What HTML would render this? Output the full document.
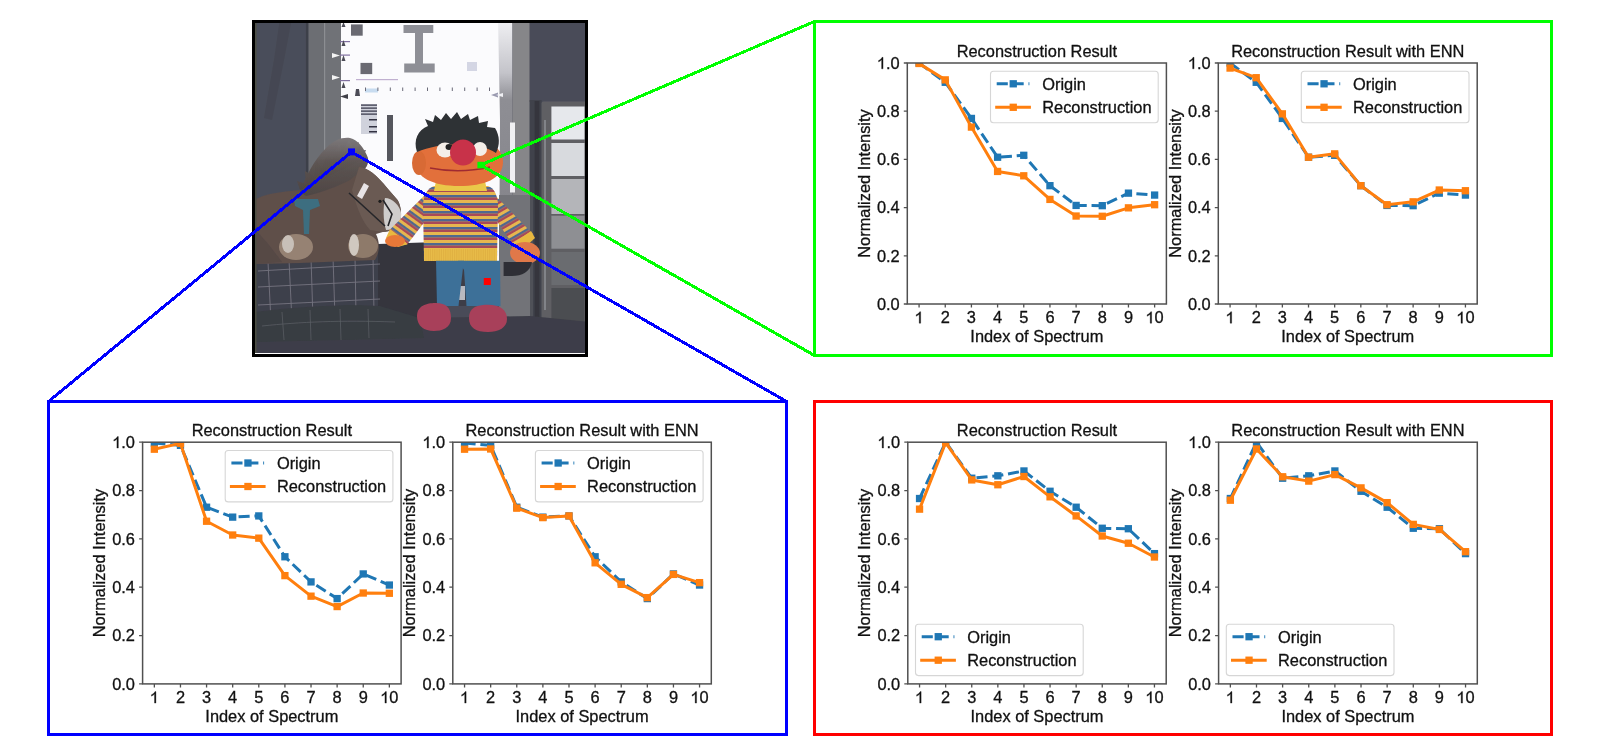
<!DOCTYPE html>
<html><head><meta charset="utf-8"><title>Reconstruction figure</title>
<style>
html,body{margin:0;padding:0;background:#fff;}
body{width:1599px;height:756px;overflow:hidden;}
svg{display:block;will-change:transform;}
svg text{font-family:"Liberation Sans", sans-serif;font-size:16.4px;fill:#111;stroke:#111;stroke-width:0.3px;}
.g1{fill:#111;stroke:#111;stroke-width:0.3px;}
</style></head><body>
<svg width="1599" height="756" viewBox="0 0 1599 756">
<rect width="1599" height="756" fill="#fff"/>

<clipPath id="phclip"><rect x="255" y="23" width="330" height="331"/></clipPath>
<filter id="soft" x="0" y="0" width="1" height="1"><feGaussianBlur stdDeviation="0.7"/></filter>
<g clip-path="url(#phclip)"><g filter="url(#soft)">
<rect x="250" y="18" width="340" height="340" fill="#4a4c58"/>
<!-- curtain -->
<rect x="250" y="18" width="55" height="250" fill="#4a4e5a"/>
<path d="M280 18 L292 18 L284 60 L272 120 L264 118 L274 60 Z" fill="#41444f" opacity="0.7"/>
<rect x="306" y="18" width="2.5" height="250" fill="#3c3f48"/>
<!-- gray panel -->
<rect x="308.5" y="18" width="16" height="250" fill="#6c6e73"/>
<rect x="324.3" y="18" width="17" height="250" fill="#707277"/>
<rect x="324" y="18" width="1.2" height="250" fill="#8c8e92"/>
<path d="M332 53 L340 55.5 L332 58 Z M332 75 L340 77.5 L332 80 Z" fill="#f4f4f4"/>
<!-- test chart -->
<rect x="341" y="18" width="161" height="260" fill="#fbfbfd"/>
<linearGradient id="stripg" gradientUnits="userSpaceOnUse" x1="0" y1="18" x2="0" y2="200"><stop offset="0" stop-color="#f2f2f5"/><stop offset="0.3" stop-color="#c4c4ca"/><stop offset="0.45" stop-color="#8e8e94"/><stop offset="1" stop-color="#86868c"/></linearGradient>
<path d="M498 18 L512.5 18 L512.5 300 L499 300 L500 120 Z" fill="url(#stripg)"/>
<rect x="529.7" y="18" width="3.3" height="300" fill="#55565c"/>
<rect x="512.5" y="18" width="17.2" height="300" fill="#868689"/>
<rect x="510" y="122.5" width="5" height="70" fill="#f0f0f2"/>
<!-- chart marks -->
<rect x="351" y="24.4" width="11.7" height="11.3" fill="#6a6b72"/>
<rect x="360.5" y="62.9" width="11.7" height="11.2" fill="#6a6b72"/>
<path d="M403.5 25 H433.3 V33 H423 V63.6 H434.7 V72.4 H404.2 V63.6 H415 V33 H403.5 Z" fill="#8e8f96"/>
<rect x="467" y="62" width="10" height="9" fill="#d4d6e4"/>
<rect x="356" y="79" width="42" height="1.2" fill="#c0b0d0"/>
<rect x="340" y="41" width="10" height="1.2" fill="#8070a0"/>
<rect x="340" y="54.5" width="10" height="1.2" fill="#8070a0"/>
<rect x="340" y="80" width="10" height="1.2" fill="#8070a0"/>
<path d="M341.5 46 L345.5 46 L343.5 40 Z M341.5 61 L345.5 61 L343.5 55 Z M341.5 88 L345.5 88 L343.5 82 Z M341.5 27 L345.5 27 L343.5 22 Z" fill="#4c4c56"/>
<path d="M356 89 L359 89 L360 96 L355 96 Z" fill="#4c4c56"/>
<path d="M340 96.5 L348 94 L348 99 Z" fill="#404048"/>
<rect x="365" y="88.5" width="13" height="4" fill="#c8dcf0"/>
<g fill="#6a6a78"><rect x="365.0" y="87.5" width="1" height="3.5"/><rect x="377.4" y="87.5" width="1" height="3.5"/><rect x="389.8" y="87.5" width="1" height="3.5"/><rect x="402.2" y="87.5" width="1" height="3.5"/><rect x="414.6" y="87.5" width="1" height="3.5"/><rect x="427.0" y="87.5" width="1" height="3.5"/><rect x="439.4" y="87.5" width="1" height="3.5"/><rect x="451.8" y="87.5" width="1" height="3.5"/><rect x="464.2" y="87.5" width="1" height="3.5"/><rect x="476.6" y="87.5" width="1" height="3.5"/><rect x="489.0" y="87.5" width="1" height="3.5"/></g>
<path d="M491 95 L498 92.5 L498 97.5 Z" fill="#9a9ab0"/><path d="M496 95 L503 93 L503 97 Z" fill="#f0f0f4"/>
<rect x="361" y="104" width="16" height="30" fill="#d0d2dc"/>
<g fill="#303042"><rect x="361" y="104.5" width="16" height="1.2"/><rect x="361" y="107.5" width="16" height="1.2"/><rect x="361" y="110.5" width="16" height="1.2"/><rect x="361" y="113.5" width="16" height="1.2"/><rect x="369" y="119" width="8" height="1.5"/><rect x="369" y="126" width="8" height="1.5"/><rect x="369" y="131" width="8" height="1.5"/></g>
<rect x="387" y="115" width="6" height="46" fill="#55565d"/>
<!-- color checker surroundings -->
<rect x="529.7" y="18" width="60" height="84" fill="#4a4c58"/>
<rect x="529.7" y="100" width="12" height="225" fill="#40424c"/>
<rect x="534.5" y="101" width="5" height="222" fill="#35363c"/>
<rect x="541.5" y="101.6" width="45" height="220" fill="#5e5f64" rx="2"/>
<rect x="551.4" y="106.5" width="33.1" height="33" fill="#e6e8ec"/>
<rect x="551.4" y="143" width="33.1" height="33" fill="#d8dade"/>
<rect x="551.4" y="179" width="33.1" height="35" fill="#b4b5b9"/>
<rect x="551.4" y="215.7" width="33.1" height="33" fill="#8e8f93"/>
<rect x="551.4" y="252" width="33.1" height="33" fill="#6b6c70"/>
<rect x="551.4" y="288" width="33.1" height="33.5" fill="#4c4d51"/>
<rect x="544" y="120" width="2" height="190" fill="#9a9ba0" opacity="0.6"/>
<!-- gray area right of Ernie -->
<rect x="499" y="195" width="31" height="130" fill="#727378"/><rect x="530" y="195" width="3" height="130" fill="#505158"/>
<!-- floor -->
<path d="M250 322 L420 318 L530 316 L590 322 L590 360 L250 360 Z" fill="#3d3e48"/>
<!-- plaid box -->
<path d="M255 256 L330 253 L380 250 L380 320 L255 324 Z" fill="#3e3f4b"/>
<path d="M378 244 L437 242 L438 305 L420 318 L378 320 Z" fill="#34353e"/>
<g stroke="#74747f" stroke-width="0.9" fill="none">
<path d="M258 271 L380 264 M258 287 L380 281 M258 305 L380 299 M262 318 L378 313"/>
<path d="M268 262 L271 322 M289 260 L292 322 M311 258 L313 320 M333 257 L335 318 M355 256 L356 316 M373 255 L374 314"/>
</g>
<path d="M255 312 C300 306 350 304 380 306 L420 318 L424 338 L255 342 Z" fill="#383c42"/>
<g stroke="#5c6066" stroke-width="0.8" fill="none" opacity="0.9"><path d="M262 326 C300 322 340 320 395 322 M282 312 L284 340 M310 310 L311 340 M340 309 L341 340 M368 309 L369 338"/></g>
<!-- horse -->
<linearGradient id="maneg" x1="0" y1="0" x2="0" y2="1"><stop offset="0" stop-color="#7c787a"/><stop offset="0.45" stop-color="#5c5452"/><stop offset="1" stop-color="#4e4644"/></linearGradient>
<path d="M255 200 C262 194 280 192 300 190 L330 176 L359 167 C368 168 376 174 388 189 L397.6 200 C401 206 402 214 400 222 C397 228 390 232 382.8 232 L376 234 C380 242 380 252 375 260 L300 263 L256 264 Z" fill="#5e4f4a"/>
<path d="M255 230 C262 236 270 246 282 262 L255 264 Z" fill="#544643" opacity="0.8"/>
<path d="M300 192 C306 176 314 160 326 148 C334 140 342 137 350 138 C358 140 364 148 368 158 C369 164 366 170 360 172 L350 180 C338 186 324 192 306 196 Z" fill="url(#maneg)"/>
<path d="M300 190 L297 181 L306 184 L305 171 L314 176 L316 161 L322 168 L328 151 L332 160 L339 143 L342 152 L349 140 L353 147 L359 142 L358 151 L366 150 L362 160 Z" fill="url(#maneg)"/>
<path d="M359 167 C368 168 376 174 388 189 L397.6 200 C401 206 402 214 400 222 C397 228 390 232 382.8 232 L370 230 C362 222 356 205 352 190 Z" fill="#6a5a52"/>
<path d="M385 198 C392 198 400 205 401.3 214 C401 224 396 230 386 230 C383 220 383 208 385 198 Z" fill="#cfcdcc"/>
<path d="M357 196 L364 183 L369 186 L362 199 Z" fill="#e8e4e6"/>
<path d="M349 193 L385 226 M383 200 L392 214 L388 226" stroke="#25262a" stroke-width="1.6" fill="none"/>
<circle cx="380" cy="201.3" r="1.6" fill="#1c1c1e"/>
<path d="M294 199 L318 199 L320 206 L310 210 L309 234 L304 234 L303 210 L295 206 Z" fill="#3c6e80"/>
<ellipse cx="296" cy="247" rx="17" ry="13" fill="#968273"/>
<ellipse cx="288" cy="244" rx="6" ry="9" fill="#c8c0b8"/>
<ellipse cx="363" cy="246" rx="15" ry="12" fill="#8e7a6b"/>
<ellipse cx="354" cy="245" rx="5" ry="11" fill="#d0c8c0"/>
<!-- Ernie -->
<!-- arms (sleeves) -->
<pattern id="strH" patternUnits="userSpaceOnUse" x="0" y="192" width="20" height="8"><rect width="20" height="8" fill="#e6b650"/><rect y="3" width="20" height="2.6" fill="#4f6890"/><rect y="5.6" width="20" height="2.4" fill="#a84858"/></pattern>
<pattern id="strL" patternUnits="userSpaceOnUse" width="20" height="8" patternTransform="rotate(36 410 215)"><rect width="20" height="8" fill="#e6b650"/><rect y="3" width="20" height="2.6" fill="#4f6890"/><rect y="5.6" width="20" height="2.4" fill="#a84858"/></pattern>
<pattern id="strR" patternUnits="userSpaceOnUse" width="20" height="8" patternTransform="rotate(-30 510 215)"><rect width="20" height="8" fill="#e6b650"/><rect y="3" width="20" height="2.6" fill="#4f6890"/><rect y="5.6" width="20" height="2.4" fill="#a84858"/></pattern>
<path d="M432 188 L389.5 230 L398 246 L407.4 244.3 L426 220 Z" fill="url(#strL)"/>
<path d="M390 229 L402 238 L407.4 244.3 L398 247 L386 238 Z" fill="#e8b840"/>
<path d="M488 188 L533.6 234.8 L526 246 L514.5 246.7 L496 220 Z" fill="url(#strR)"/>
<path d="M518 240 L531 231 L535 238 L524 248 L514.5 246.7 Z" fill="#e8b840"/>
<!-- hands -->
<ellipse cx="395" cy="241" rx="10" ry="6" fill="#e87838"/>
<ellipse cx="525" cy="253" rx="15" ry="11" fill="#e0784a"/>
<!-- sweater -->
<path d="M434 186 L488 186 C494 188 497 194 498 204 L497 261 L424 261 L423 204 C424 194 428 188 434 186 Z" fill="url(#strH)"/>
<rect x="424" y="248.5" width="73" height="12.5" fill="#e8bc48"/>
<g stroke="#d09838" stroke-width="0.6" opacity="0.6"><path d="M426.0 249 V261"/><path d="M428.2 249 V261"/><path d="M430.4 249 V261"/><path d="M432.6 249 V261"/><path d="M434.8 249 V261"/><path d="M437.0 249 V261"/><path d="M439.2 249 V261"/><path d="M441.4 249 V261"/><path d="M443.6 249 V261"/><path d="M445.8 249 V261"/><path d="M448.0 249 V261"/><path d="M450.2 249 V261"/><path d="M452.4 249 V261"/><path d="M454.6 249 V261"/><path d="M456.8 249 V261"/><path d="M459.0 249 V261"/><path d="M461.2 249 V261"/><path d="M463.4 249 V261"/><path d="M465.6 249 V261"/><path d="M467.8 249 V261"/><path d="M470.0 249 V261"/><path d="M472.2 249 V261"/><path d="M474.4 249 V261"/><path d="M476.6 249 V261"/><path d="M478.8 249 V261"/><path d="M481.0 249 V261"/><path d="M483.2 249 V261"/><path d="M485.4 249 V261"/><path d="M487.6 249 V261"/><path d="M489.8 249 V261"/><path d="M492.0 249 V261"/><path d="M494.2 249 V261"/></g>
<!-- collar -->
<path d="M436 181 L485 181 L487 191 L434 191 Z" fill="#eac84a"/>
<!-- face -->
<path d="M415 161 C415 145 435 137 459 137 C484 137 503 146 503 162 C503 179 484 186 459 186 C434 186 415 178 415 161 Z" fill="#e2703a"/>
<ellipse cx="419" cy="163" rx="7" ry="12" fill="#d86a34"/>
<path d="M417 152 C413 140 418 130 428 126 L425 119 L433 122 L435 115 L441 120 L446 113 L451 119 L457 112 L461 119 L468 114 L470 120 L478 116 L479 123 L488 121 L487 127 L495 128 C500 136 500 145 496 153 C480 142 440 142 417 152 Z" fill="#2e3034"/>
<ellipse cx="445" cy="150" rx="8.5" ry="7.5" fill="#f4eee8"/>
<ellipse cx="480" cy="149" rx="7" ry="7" fill="#f4eee8"/>
<ellipse cx="449" cy="147" rx="3.5" ry="3" fill="#222"/>
<circle cx="463" cy="152.5" r="13" fill="#c8304a"/>
<path d="M430 168 Q460 174 490 167" stroke="#a02c30" stroke-width="1.4" fill="none"/>
<!-- pants -->
<rect x="455" y="262" width="14" height="44" fill="#3d3e47"/><rect x="457" y="286" width="8" height="14" fill="#b8b9c0"/>
<path d="M436 260.7 L464 260.7 L463 268 L458.5 306 L437 306 Z" fill="#3c6f98"/>
<path d="M458 260.7 L500 260.7 L500.5 306 L466.5 306 L464 270 Z" fill="#3c6f98"/>
<!-- shoes -->
<path d="M417 316 C417 304 430 303 436 303 C446 303 451 308 451 318 C451 328 442 331 434 331 C424 331 417 326 417 316 Z" fill="#a8405a"/>
<path d="M469 318 C469 306 480 304.8 488 304.8 C500 304.8 507 310 507 319 C507 328 498 332 488 332 C476 332 469 328 469 318 Z" fill="#a8405a"/>
<!-- stick/bag -->
<path d="M503.6 262 L532 262 C530 272 522 276 512 276 L503.6 276 Z" fill="#2e2f35"/>
</g>
<rect x="255" y="23" width="1.6" height="330" fill="#4e5044" opacity="0.9"/>
<rect x="255" y="353" width="330" height="1" fill="#ffffff"/>
</g>
<rect x="253.5" y="21.5" width="333" height="334" fill="none" stroke="#000" stroke-width="3"/>

<clipPath id="clipGL"><rect x="907.3" y="63" width="259.1" height="241"/></clipPath>
<g clip-path="url(#clipGL)">
<polyline points="919.08,63 945.25,82.28 971.42,118.43 997.59,157.23 1023.76,155.3 1049.94,185.67 1076.11,205.43 1102.28,205.67 1128.45,193.14 1154.62,195.07" fill="none" stroke="#1f77b4" stroke-width="3" stroke-linejoin="round" stroke-linecap="butt" stroke-dasharray="11.1 4.8"/>
<rect x="915.43" y="59.35" width="7.3" height="7.3" fill="#1f77b4"/>
<rect x="941.6" y="78.63" width="7.3" height="7.3" fill="#1f77b4"/>
<rect x="967.77" y="114.78" width="7.3" height="7.3" fill="#1f77b4"/>
<rect x="993.94" y="153.58" width="7.3" height="7.3" fill="#1f77b4"/>
<rect x="1020.11" y="151.65" width="7.3" height="7.3" fill="#1f77b4"/>
<rect x="1046.29" y="182.02" width="7.3" height="7.3" fill="#1f77b4"/>
<rect x="1072.46" y="201.78" width="7.3" height="7.3" fill="#1f77b4"/>
<rect x="1098.63" y="202.02" width="7.3" height="7.3" fill="#1f77b4"/>
<rect x="1124.8" y="189.49" width="7.3" height="7.3" fill="#1f77b4"/>
<rect x="1150.97" y="191.42" width="7.3" height="7.3" fill="#1f77b4"/>
<polyline points="919.08,63.48 945.25,79.87 971.42,127.11 997.59,171.45 1023.76,175.79 1049.94,199.41 1076.11,216.03 1102.28,216.28 1128.45,207.84 1154.62,204.71" fill="none" stroke="#ff7f0e" stroke-width="3" stroke-linejoin="round" stroke-linecap="square"/>
<rect x="915.43" y="59.83" width="7.3" height="7.3" fill="#ff7f0e"/>
<rect x="941.6" y="76.22" width="7.3" height="7.3" fill="#ff7f0e"/>
<rect x="967.77" y="123.46" width="7.3" height="7.3" fill="#ff7f0e"/>
<rect x="993.94" y="167.8" width="7.3" height="7.3" fill="#ff7f0e"/>
<rect x="1020.11" y="172.14" width="7.3" height="7.3" fill="#ff7f0e"/>
<rect x="1046.29" y="195.76" width="7.3" height="7.3" fill="#ff7f0e"/>
<rect x="1072.46" y="212.38" width="7.3" height="7.3" fill="#ff7f0e"/>
<rect x="1098.63" y="212.63" width="7.3" height="7.3" fill="#ff7f0e"/>
<rect x="1124.8" y="204.19" width="7.3" height="7.3" fill="#ff7f0e"/>
<rect x="1150.97" y="201.06" width="7.3" height="7.3" fill="#ff7f0e"/>
</g>
<rect x="907.3" y="63" width="259.1" height="241" fill="none" stroke="#505050" stroke-width="1.5"/>
<path d="M903.8 304H907.3M903.8 255.8H907.3M903.8 207.6H907.3M903.8 159.4H907.3M903.8 111.2H907.3M903.8 63H907.3M919.08 304V307.5M945.25 304V307.5M971.42 304V307.5M997.59 304V307.5M1023.76 304V307.5M1049.94 304V307.5M1076.11 304V307.5M1102.28 304V307.5M1128.45 304V307.5M1154.62 304V307.5" stroke="#505050" stroke-width="1.3" fill="none"/>
<text x="876.9" y="309.85">0.0</text>
<text x="876.9" y="261.65">0.2</text>
<text x="876.9" y="213.45">0.4</text>
<text x="876.9" y="165.25">0.6</text>
<text x="876.9" y="117.05">0.8</text>
<text x="876.9" y="68.85"> .0</text>
<path class="g1" d="M883.05 68.85L883.05 57.37L882.12 57.37C881.82 57.99 881.3 58.62 880.54 59.24C879.94 59.76 879.28 60.19 878.54 60.52L878.54 61.9C879.03 61.7 879.61 61.4 880.21 61.01C880.84 60.62 881.3 60.22 881.61 59.86L881.61 68.85Z"/>
<path class="g1" d="M920.67 323.2L920.67 311.72L919.73 311.72C919.44 312.34 918.91 312.97 918.16 313.59C917.55 314.11 916.89 314.54 916.16 314.87L916.16 316.25C916.65 316.05 917.22 315.75 917.83 315.36C918.45 314.97 918.91 314.57 919.22 314.21L919.22 323.2Z"/>
<text x="940.69" y="323.2">2</text>
<text x="966.86" y="323.2">3</text>
<text x="993.03" y="323.2">4</text>
<text x="1019.2" y="323.2">5</text>
<text x="1045.38" y="323.2">6</text>
<text x="1071.55" y="323.2">7</text>
<text x="1097.72" y="323.2">8</text>
<text x="1123.89" y="323.2">9</text>
<text x="1145.5" y="323.2"> 0</text>
<path class="g1" d="M1151.65 323.2L1151.65 311.72L1150.72 311.72C1150.42 312.34 1149.9 312.97 1149.14 313.59C1148.54 314.11 1147.88 314.54 1147.14 314.87L1147.14 316.25C1147.63 316.05 1148.21 315.75 1148.81 315.36C1149.44 314.97 1149.9 314.57 1150.21 314.21L1150.21 323.2Z"/>
<text x="1036.85" y="342.3" text-anchor="middle">Index of Spectrum</text>
<text x="1036.85" y="56.9" text-anchor="middle">Reconstruction Result</text>
<text transform="translate(869.8 183.5) rotate(-90)" text-anchor="middle">Normalized Intensity</text>
<rect x="990.5" y="71.3" width="167.7" height="51.4" rx="3" fill="#fff" fill-opacity="0.8" stroke="#d6d6d6" stroke-width="1.1"/>
<path d="M996.7 83.8H1029.4" stroke="#1f77b4" stroke-width="3" stroke-linecap="butt" stroke-dasharray="11.1 4.8"/>
<rect x="1009.6" y="80.15" width="7.3" height="7.3" fill="#1f77b4"/>
<text x="1042.2" y="89.6">Origin</text>
<path d="M996.7 107.3H1029.4" stroke="#ff7f0e" stroke-width="3" stroke-linecap="square"/>
<rect x="1009.6" y="103.65" width="7.3" height="7.3" fill="#ff7f0e"/>
<text x="1042.2" y="113.1">Reconstruction</text>
<clipPath id="clipGR"><rect x="1218.3" y="63" width="258.9" height="241"/></clipPath>
<g clip-path="url(#clipGR)">
<polyline points="1230.07,63 1256.22,82.28 1282.37,118.43 1308.52,157.23 1334.67,155.3 1360.83,185.67 1386.98,205.43 1413.13,205.67 1439.28,193.14 1465.43,195.07" fill="none" stroke="#1f77b4" stroke-width="3" stroke-linejoin="round" stroke-linecap="butt" stroke-dasharray="11.1 4.8"/>
<rect x="1226.42" y="59.35" width="7.3" height="7.3" fill="#1f77b4"/>
<rect x="1252.57" y="78.63" width="7.3" height="7.3" fill="#1f77b4"/>
<rect x="1278.72" y="114.78" width="7.3" height="7.3" fill="#1f77b4"/>
<rect x="1304.87" y="153.58" width="7.3" height="7.3" fill="#1f77b4"/>
<rect x="1331.02" y="151.65" width="7.3" height="7.3" fill="#1f77b4"/>
<rect x="1357.18" y="182.02" width="7.3" height="7.3" fill="#1f77b4"/>
<rect x="1383.33" y="201.78" width="7.3" height="7.3" fill="#1f77b4"/>
<rect x="1409.48" y="202.02" width="7.3" height="7.3" fill="#1f77b4"/>
<rect x="1435.63" y="189.49" width="7.3" height="7.3" fill="#1f77b4"/>
<rect x="1461.78" y="191.42" width="7.3" height="7.3" fill="#1f77b4"/>
<polyline points="1230.07,68.06 1256.22,77.7 1282.37,113.85 1308.52,157.23 1334.67,153.86 1360.83,185.67 1386.98,204.71 1413.13,201.82 1439.28,190.01 1465.43,190.73" fill="none" stroke="#ff7f0e" stroke-width="3" stroke-linejoin="round" stroke-linecap="square"/>
<rect x="1226.42" y="64.41" width="7.3" height="7.3" fill="#ff7f0e"/>
<rect x="1252.57" y="74.05" width="7.3" height="7.3" fill="#ff7f0e"/>
<rect x="1278.72" y="110.2" width="7.3" height="7.3" fill="#ff7f0e"/>
<rect x="1304.87" y="153.58" width="7.3" height="7.3" fill="#ff7f0e"/>
<rect x="1331.02" y="150.21" width="7.3" height="7.3" fill="#ff7f0e"/>
<rect x="1357.18" y="182.02" width="7.3" height="7.3" fill="#ff7f0e"/>
<rect x="1383.33" y="201.06" width="7.3" height="7.3" fill="#ff7f0e"/>
<rect x="1409.48" y="198.17" width="7.3" height="7.3" fill="#ff7f0e"/>
<rect x="1435.63" y="186.36" width="7.3" height="7.3" fill="#ff7f0e"/>
<rect x="1461.78" y="187.08" width="7.3" height="7.3" fill="#ff7f0e"/>
</g>
<rect x="1218.3" y="63" width="258.9" height="241" fill="none" stroke="#505050" stroke-width="1.5"/>
<path d="M1214.8 304H1218.3M1214.8 255.8H1218.3M1214.8 207.6H1218.3M1214.8 159.4H1218.3M1214.8 111.2H1218.3M1214.8 63H1218.3M1230.07 304V307.5M1256.22 304V307.5M1282.37 304V307.5M1308.52 304V307.5M1334.67 304V307.5M1360.83 304V307.5M1386.98 304V307.5M1413.13 304V307.5M1439.28 304V307.5M1465.43 304V307.5" stroke="#505050" stroke-width="1.3" fill="none"/>
<text x="1187.9" y="309.85">0.0</text>
<text x="1187.9" y="261.65">0.2</text>
<text x="1187.9" y="213.45">0.4</text>
<text x="1187.9" y="165.25">0.6</text>
<text x="1187.9" y="117.05">0.8</text>
<text x="1187.9" y="68.85"> .0</text>
<path class="g1" d="M1194.05 68.85L1194.05 57.37L1193.12 57.37C1192.82 57.99 1192.3 58.62 1191.54 59.24C1190.94 59.76 1190.28 60.19 1189.54 60.52L1189.54 61.9C1190.03 61.7 1190.61 61.4 1191.21 61.01C1191.84 60.62 1192.3 60.22 1192.61 59.86L1192.61 68.85Z"/>
<path class="g1" d="M1231.66 323.2L1231.66 311.72L1230.72 311.72C1230.43 312.34 1229.9 312.97 1229.15 313.59C1228.54 314.11 1227.89 314.54 1227.15 314.87L1227.15 316.25C1227.64 316.05 1228.21 315.75 1228.82 315.36C1229.44 314.97 1229.9 314.57 1230.21 314.21L1230.21 323.2Z"/>
<text x="1251.66" y="323.2">2</text>
<text x="1277.81" y="323.2">3</text>
<text x="1303.96" y="323.2">4</text>
<text x="1330.11" y="323.2">5</text>
<text x="1356.27" y="323.2">6</text>
<text x="1382.42" y="323.2">7</text>
<text x="1408.57" y="323.2">8</text>
<text x="1434.72" y="323.2">9</text>
<text x="1456.31" y="323.2"> 0</text>
<path class="g1" d="M1462.46 323.2L1462.46 311.72L1461.53 311.72C1461.23 312.34 1460.71 312.97 1459.95 313.59C1459.34 314.11 1458.69 314.54 1457.95 314.87L1457.95 316.25C1458.44 316.05 1459.02 315.75 1459.62 315.36C1460.25 314.97 1460.71 314.57 1461.02 314.21L1461.02 323.2Z"/>
<text x="1347.75" y="342.3" text-anchor="middle">Index of Spectrum</text>
<text x="1347.75" y="56.9" text-anchor="middle">Reconstruction Result with ENN</text>
<text transform="translate(1180.8 183.5) rotate(-90)" text-anchor="middle">Normalized Intensity</text>
<rect x="1301.3" y="71.3" width="167.7" height="51.4" rx="3" fill="#fff" fill-opacity="0.8" stroke="#d6d6d6" stroke-width="1.1"/>
<path d="M1307.5 83.8H1340.2" stroke="#1f77b4" stroke-width="3" stroke-linecap="butt" stroke-dasharray="11.1 4.8"/>
<rect x="1320.4" y="80.15" width="7.3" height="7.3" fill="#1f77b4"/>
<text x="1353" y="89.6">Origin</text>
<path d="M1307.5 107.3H1340.2" stroke="#ff7f0e" stroke-width="3" stroke-linecap="square"/>
<rect x="1320.4" y="103.65" width="7.3" height="7.3" fill="#ff7f0e"/>
<text x="1353" y="113.1">Reconstruction</text>
<clipPath id="clipBL"><rect x="142.6" y="442.2" width="258.5" height="241.7"/></clipPath>
<g clip-path="url(#clipBL)">
<polyline points="154.35,442.93 180.46,445.34 206.57,507.22 232.68,517.13 258.79,515.92 284.91,556.77 311.02,581.9 337.13,598.58 363.24,573.93 389.35,585.04" fill="none" stroke="#1f77b4" stroke-width="3" stroke-linejoin="round" stroke-linecap="butt" stroke-dasharray="11.1 4.8"/>
<rect x="150.7" y="439.28" width="7.3" height="7.3" fill="#1f77b4"/>
<rect x="176.81" y="441.69" width="7.3" height="7.3" fill="#1f77b4"/>
<rect x="202.92" y="503.57" width="7.3" height="7.3" fill="#1f77b4"/>
<rect x="229.03" y="513.48" width="7.3" height="7.3" fill="#1f77b4"/>
<rect x="255.14" y="512.27" width="7.3" height="7.3" fill="#1f77b4"/>
<rect x="281.26" y="553.12" width="7.3" height="7.3" fill="#1f77b4"/>
<rect x="307.37" y="578.25" width="7.3" height="7.3" fill="#1f77b4"/>
<rect x="333.48" y="594.93" width="7.3" height="7.3" fill="#1f77b4"/>
<rect x="359.59" y="570.28" width="7.3" height="7.3" fill="#1f77b4"/>
<rect x="385.7" y="581.39" width="7.3" height="7.3" fill="#1f77b4"/>
<polyline points="154.35,449.21 180.46,443.41 206.57,521.24 232.68,535.01 258.79,538.15 284.91,575.62 311.02,596.16 337.13,606.56 363.24,593.02 389.35,593.26" fill="none" stroke="#ff7f0e" stroke-width="3" stroke-linejoin="round" stroke-linecap="square"/>
<rect x="150.7" y="445.56" width="7.3" height="7.3" fill="#ff7f0e"/>
<rect x="176.81" y="439.76" width="7.3" height="7.3" fill="#ff7f0e"/>
<rect x="202.92" y="517.59" width="7.3" height="7.3" fill="#ff7f0e"/>
<rect x="229.03" y="531.36" width="7.3" height="7.3" fill="#ff7f0e"/>
<rect x="255.14" y="534.5" width="7.3" height="7.3" fill="#ff7f0e"/>
<rect x="281.26" y="571.97" width="7.3" height="7.3" fill="#ff7f0e"/>
<rect x="307.37" y="592.51" width="7.3" height="7.3" fill="#ff7f0e"/>
<rect x="333.48" y="602.91" width="7.3" height="7.3" fill="#ff7f0e"/>
<rect x="359.59" y="589.37" width="7.3" height="7.3" fill="#ff7f0e"/>
<rect x="385.7" y="589.61" width="7.3" height="7.3" fill="#ff7f0e"/>
</g>
<rect x="142.6" y="442.2" width="258.5" height="241.7" fill="none" stroke="#505050" stroke-width="1.5"/>
<path d="M139.1 683.9H142.6M139.1 635.56H142.6M139.1 587.22H142.6M139.1 538.88H142.6M139.1 490.54H142.6M139.1 442.2H142.6M154.35 683.9V687.4M180.46 683.9V687.4M206.57 683.9V687.4M232.68 683.9V687.4M258.79 683.9V687.4M284.91 683.9V687.4M311.02 683.9V687.4M337.13 683.9V687.4M363.24 683.9V687.4M389.35 683.9V687.4" stroke="#505050" stroke-width="1.3" fill="none"/>
<text x="112.2" y="689.75">0.0</text>
<text x="112.2" y="641.41">0.2</text>
<text x="112.2" y="593.07">0.4</text>
<text x="112.2" y="544.73">0.6</text>
<text x="112.2" y="496.39">0.8</text>
<text x="112.2" y="448.05"> .0</text>
<path class="g1" d="M118.35 448.05L118.35 436.57L117.42 436.57C117.12 437.19 116.6 437.82 115.84 438.44C115.24 438.96 114.58 439.39 113.84 439.72L113.84 441.1C114.33 440.9 114.91 440.6 115.51 440.21C116.14 439.82 116.6 439.42 116.91 439.06L116.91 448.05Z"/>
<path class="g1" d="M155.94 703.1L155.94 691.62L155 691.62C154.71 692.24 154.18 692.87 153.43 693.49C152.82 694.01 152.17 694.44 151.43 694.77L151.43 696.15C151.92 695.95 152.5 695.65 153.1 695.26C153.73 694.87 154.18 694.47 154.5 694.11L154.5 703.1Z"/>
<text x="175.9" y="703.1">2</text>
<text x="202.01" y="703.1">3</text>
<text x="228.12" y="703.1">4</text>
<text x="254.23" y="703.1">5</text>
<text x="280.35" y="703.1">6</text>
<text x="306.46" y="703.1">7</text>
<text x="332.57" y="703.1">8</text>
<text x="358.68" y="703.1">9</text>
<text x="380.23" y="703.1"> 0</text>
<path class="g1" d="M386.38 703.1L386.38 691.62L385.44 691.62C385.15 692.24 384.62 692.87 383.87 693.49C383.26 694.01 382.61 694.44 381.87 694.77L381.87 696.15C382.36 695.95 382.94 695.65 383.54 695.26C384.17 694.87 384.62 694.47 384.94 694.11L384.94 703.1Z"/>
<text x="271.85" y="722.2" text-anchor="middle">Index of Spectrum</text>
<text x="271.85" y="436.1" text-anchor="middle">Reconstruction Result</text>
<text transform="translate(105.1 563.05) rotate(-90)" text-anchor="middle">Normalized Intensity</text>
<rect x="225.2" y="450.5" width="167.7" height="51.4" rx="3" fill="#fff" fill-opacity="0.8" stroke="#d6d6d6" stroke-width="1.1"/>
<path d="M231.4 463H264.1" stroke="#1f77b4" stroke-width="3" stroke-linecap="butt" stroke-dasharray="11.1 4.8"/>
<rect x="244.3" y="459.35" width="7.3" height="7.3" fill="#1f77b4"/>
<text x="276.9" y="468.8">Origin</text>
<path d="M231.4 486.5H264.1" stroke="#ff7f0e" stroke-width="3" stroke-linecap="square"/>
<rect x="244.3" y="482.85" width="7.3" height="7.3" fill="#ff7f0e"/>
<text x="276.9" y="492.3">Reconstruction</text>
<clipPath id="clipBR"><rect x="452.8" y="442.2" width="258.5" height="241.7"/></clipPath>
<g clip-path="url(#clipBR)">
<polyline points="464.55,442.93 490.66,445.34 516.77,507.22 542.88,517.13 568.99,515.92 595.11,556.77 621.22,581.9 647.33,598.58 673.44,573.93 699.55,585.04" fill="none" stroke="#1f77b4" stroke-width="3" stroke-linejoin="round" stroke-linecap="butt" stroke-dasharray="11.1 4.8"/>
<rect x="460.9" y="439.28" width="7.3" height="7.3" fill="#1f77b4"/>
<rect x="487.01" y="441.69" width="7.3" height="7.3" fill="#1f77b4"/>
<rect x="513.12" y="503.57" width="7.3" height="7.3" fill="#1f77b4"/>
<rect x="539.23" y="513.48" width="7.3" height="7.3" fill="#1f77b4"/>
<rect x="565.34" y="512.27" width="7.3" height="7.3" fill="#1f77b4"/>
<rect x="591.46" y="553.12" width="7.3" height="7.3" fill="#1f77b4"/>
<rect x="617.57" y="578.25" width="7.3" height="7.3" fill="#1f77b4"/>
<rect x="643.68" y="594.93" width="7.3" height="7.3" fill="#1f77b4"/>
<rect x="669.79" y="570.28" width="7.3" height="7.3" fill="#1f77b4"/>
<rect x="695.9" y="581.39" width="7.3" height="7.3" fill="#1f77b4"/>
<polyline points="464.55,449.21 490.66,448.97 516.77,508.18 542.88,517.61 568.99,515.92 595.11,562.81 621.22,584.32 647.33,597.61 673.44,574.41 699.55,582.63" fill="none" stroke="#ff7f0e" stroke-width="3" stroke-linejoin="round" stroke-linecap="square"/>
<rect x="460.9" y="445.56" width="7.3" height="7.3" fill="#ff7f0e"/>
<rect x="487.01" y="445.32" width="7.3" height="7.3" fill="#ff7f0e"/>
<rect x="513.12" y="504.53" width="7.3" height="7.3" fill="#ff7f0e"/>
<rect x="539.23" y="513.96" width="7.3" height="7.3" fill="#ff7f0e"/>
<rect x="565.34" y="512.27" width="7.3" height="7.3" fill="#ff7f0e"/>
<rect x="591.46" y="559.16" width="7.3" height="7.3" fill="#ff7f0e"/>
<rect x="617.57" y="580.67" width="7.3" height="7.3" fill="#ff7f0e"/>
<rect x="643.68" y="593.96" width="7.3" height="7.3" fill="#ff7f0e"/>
<rect x="669.79" y="570.76" width="7.3" height="7.3" fill="#ff7f0e"/>
<rect x="695.9" y="578.98" width="7.3" height="7.3" fill="#ff7f0e"/>
</g>
<rect x="452.8" y="442.2" width="258.5" height="241.7" fill="none" stroke="#505050" stroke-width="1.5"/>
<path d="M449.3 683.9H452.8M449.3 635.56H452.8M449.3 587.22H452.8M449.3 538.88H452.8M449.3 490.54H452.8M449.3 442.2H452.8M464.55 683.9V687.4M490.66 683.9V687.4M516.77 683.9V687.4M542.88 683.9V687.4M568.99 683.9V687.4M595.11 683.9V687.4M621.22 683.9V687.4M647.33 683.9V687.4M673.44 683.9V687.4M699.55 683.9V687.4" stroke="#505050" stroke-width="1.3" fill="none"/>
<text x="422.4" y="689.75">0.0</text>
<text x="422.4" y="641.41">0.2</text>
<text x="422.4" y="593.07">0.4</text>
<text x="422.4" y="544.73">0.6</text>
<text x="422.4" y="496.39">0.8</text>
<text x="422.4" y="448.05"> .0</text>
<path class="g1" d="M428.55 448.05L428.55 436.57L427.62 436.57C427.32 437.19 426.8 437.82 426.04 438.44C425.44 438.96 424.78 439.39 424.04 439.72L424.04 441.1C424.53 440.9 425.11 440.6 425.71 440.21C426.34 439.82 426.8 439.42 427.11 439.06L427.11 448.05Z"/>
<path class="g1" d="M466.14 703.1L466.14 691.62L465.2 691.62C464.91 692.24 464.38 692.87 463.63 693.49C463.02 694.01 462.37 694.44 461.63 694.77L461.63 696.15C462.12 695.95 462.7 695.65 463.3 695.26C463.93 694.87 464.38 694.47 464.7 694.11L464.7 703.1Z"/>
<text x="486.1" y="703.1">2</text>
<text x="512.21" y="703.1">3</text>
<text x="538.32" y="703.1">4</text>
<text x="564.43" y="703.1">5</text>
<text x="590.55" y="703.1">6</text>
<text x="616.66" y="703.1">7</text>
<text x="642.77" y="703.1">8</text>
<text x="668.88" y="703.1">9</text>
<text x="690.43" y="703.1"> 0</text>
<path class="g1" d="M696.58 703.1L696.58 691.62L695.64 691.62C695.35 692.24 694.82 692.87 694.07 693.49C693.46 694.01 692.81 694.44 692.07 694.77L692.07 696.15C692.56 695.95 693.14 695.65 693.74 695.26C694.37 694.87 694.82 694.47 695.14 694.11L695.14 703.1Z"/>
<text x="582.05" y="722.2" text-anchor="middle">Index of Spectrum</text>
<text x="582.05" y="436.1" text-anchor="middle">Reconstruction Result with ENN</text>
<text transform="translate(415.3 563.05) rotate(-90)" text-anchor="middle">Normalized Intensity</text>
<rect x="535.4" y="450.5" width="167.7" height="51.4" rx="3" fill="#fff" fill-opacity="0.8" stroke="#d6d6d6" stroke-width="1.1"/>
<path d="M541.6 463H574.3" stroke="#1f77b4" stroke-width="3" stroke-linecap="butt" stroke-dasharray="11.1 4.8"/>
<rect x="554.5" y="459.35" width="7.3" height="7.3" fill="#1f77b4"/>
<text x="587.1" y="468.8">Origin</text>
<path d="M541.6 486.5H574.3" stroke="#ff7f0e" stroke-width="3" stroke-linecap="square"/>
<rect x="554.5" y="482.85" width="7.3" height="7.3" fill="#ff7f0e"/>
<text x="587.1" y="492.3">Reconstruction</text>
<clipPath id="clipRL"><rect x="907.8" y="442.2" width="258.4" height="241.7"/></clipPath>
<g clip-path="url(#clipRL)">
<polyline points="919.55,498.52 945.65,442.2 971.75,478.21 997.85,475.8 1023.95,470.96 1050.05,491.27 1076.15,507.22 1102.25,528.25 1128.35,528.73 1154.45,553.62" fill="none" stroke="#1f77b4" stroke-width="3" stroke-linejoin="round" stroke-linecap="butt" stroke-dasharray="11.1 4.8"/>
<rect x="915.9" y="494.87" width="7.3" height="7.3" fill="#1f77b4"/>
<rect x="942" y="438.55" width="7.3" height="7.3" fill="#1f77b4"/>
<rect x="968.1" y="474.56" width="7.3" height="7.3" fill="#1f77b4"/>
<rect x="994.2" y="472.15" width="7.3" height="7.3" fill="#1f77b4"/>
<rect x="1020.3" y="467.31" width="7.3" height="7.3" fill="#1f77b4"/>
<rect x="1046.4" y="487.62" width="7.3" height="7.3" fill="#1f77b4"/>
<rect x="1072.5" y="503.57" width="7.3" height="7.3" fill="#1f77b4"/>
<rect x="1098.6" y="524.6" width="7.3" height="7.3" fill="#1f77b4"/>
<rect x="1124.7" y="525.08" width="7.3" height="7.3" fill="#1f77b4"/>
<rect x="1150.8" y="549.97" width="7.3" height="7.3" fill="#1f77b4"/>
<polyline points="919.55,509.15 945.65,442.68 971.75,479.91 997.85,484.74 1023.95,476.52 1050.05,496.82 1076.15,515.92 1102.25,535.98 1128.35,543.23 1154.45,557.01" fill="none" stroke="#ff7f0e" stroke-width="3" stroke-linejoin="round" stroke-linecap="square"/>
<rect x="915.9" y="505.5" width="7.3" height="7.3" fill="#ff7f0e"/>
<rect x="942" y="439.03" width="7.3" height="7.3" fill="#ff7f0e"/>
<rect x="968.1" y="476.26" width="7.3" height="7.3" fill="#ff7f0e"/>
<rect x="994.2" y="481.09" width="7.3" height="7.3" fill="#ff7f0e"/>
<rect x="1020.3" y="472.87" width="7.3" height="7.3" fill="#ff7f0e"/>
<rect x="1046.4" y="493.17" width="7.3" height="7.3" fill="#ff7f0e"/>
<rect x="1072.5" y="512.27" width="7.3" height="7.3" fill="#ff7f0e"/>
<rect x="1098.6" y="532.33" width="7.3" height="7.3" fill="#ff7f0e"/>
<rect x="1124.7" y="539.58" width="7.3" height="7.3" fill="#ff7f0e"/>
<rect x="1150.8" y="553.36" width="7.3" height="7.3" fill="#ff7f0e"/>
</g>
<rect x="907.8" y="442.2" width="258.4" height="241.7" fill="none" stroke="#505050" stroke-width="1.5"/>
<path d="M904.3 683.9H907.8M904.3 635.56H907.8M904.3 587.22H907.8M904.3 538.88H907.8M904.3 490.54H907.8M904.3 442.2H907.8M919.55 683.9V687.4M945.65 683.9V687.4M971.75 683.9V687.4M997.85 683.9V687.4M1023.95 683.9V687.4M1050.05 683.9V687.4M1076.15 683.9V687.4M1102.25 683.9V687.4M1128.35 683.9V687.4M1154.45 683.9V687.4" stroke="#505050" stroke-width="1.3" fill="none"/>
<text x="877.4" y="689.75">0.0</text>
<text x="877.4" y="641.41">0.2</text>
<text x="877.4" y="593.07">0.4</text>
<text x="877.4" y="544.73">0.6</text>
<text x="877.4" y="496.39">0.8</text>
<text x="877.4" y="448.05"> .0</text>
<path class="g1" d="M883.55 448.05L883.55 436.57L882.62 436.57C882.32 437.19 881.8 437.82 881.04 438.44C880.44 438.96 879.78 439.39 879.04 439.72L879.04 441.1C879.53 440.9 880.11 440.6 880.71 440.21C881.34 439.82 881.8 439.42 882.11 439.06L882.11 448.05Z"/>
<path class="g1" d="M921.14 703.1L921.14 691.62L920.2 691.62C919.91 692.24 919.38 692.87 918.63 693.49C918.02 694.01 917.36 694.44 916.63 694.77L916.63 696.15C917.12 695.95 917.69 695.65 918.3 695.26C918.92 694.87 919.38 694.47 919.69 694.11L919.69 703.1Z"/>
<text x="941.09" y="703.1">2</text>
<text x="967.19" y="703.1">3</text>
<text x="993.29" y="703.1">4</text>
<text x="1019.39" y="703.1">5</text>
<text x="1045.49" y="703.1">6</text>
<text x="1071.59" y="703.1">7</text>
<text x="1097.69" y="703.1">8</text>
<text x="1123.79" y="703.1">9</text>
<text x="1145.33" y="703.1"> 0</text>
<path class="g1" d="M1151.48 703.1L1151.48 691.62L1150.55 691.62C1150.25 692.24 1149.73 692.87 1148.97 693.49C1148.37 694.01 1147.71 694.44 1146.97 694.77L1146.97 696.15C1147.47 695.95 1148.04 695.65 1148.65 695.26C1149.27 694.87 1149.73 694.47 1150.04 694.11L1150.04 703.1Z"/>
<text x="1037" y="722.2" text-anchor="middle">Index of Spectrum</text>
<text x="1037" y="436.1" text-anchor="middle">Reconstruction Result</text>
<text transform="translate(870.3 563.05) rotate(-90)" text-anchor="middle">Normalized Intensity</text>
<rect x="915.5" y="624.2" width="167.7" height="51.4" rx="3" fill="#fff" fill-opacity="0.8" stroke="#d6d6d6" stroke-width="1.1"/>
<path d="M921.7 636.7H954.4" stroke="#1f77b4" stroke-width="3" stroke-linecap="butt" stroke-dasharray="11.1 4.8"/>
<rect x="934.6" y="633.05" width="7.3" height="7.3" fill="#1f77b4"/>
<text x="967.2" y="642.5">Origin</text>
<path d="M921.7 660.2H954.4" stroke="#ff7f0e" stroke-width="3" stroke-linecap="square"/>
<rect x="934.6" y="656.55" width="7.3" height="7.3" fill="#ff7f0e"/>
<text x="967.2" y="666">Reconstruction</text>
<clipPath id="clipRR"><rect x="1218.6" y="442.2" width="258.7" height="241.7"/></clipPath>
<g clip-path="url(#clipRR)">
<polyline points="1230.36,498.52 1256.49,442.2 1282.62,478.21 1308.75,475.8 1334.88,470.96 1361.02,491.27 1387.15,507.22 1413.28,528.25 1439.41,528.73 1465.54,553.62" fill="none" stroke="#1f77b4" stroke-width="3" stroke-linejoin="round" stroke-linecap="butt" stroke-dasharray="11.1 4.8"/>
<rect x="1226.71" y="494.87" width="7.3" height="7.3" fill="#1f77b4"/>
<rect x="1252.84" y="438.55" width="7.3" height="7.3" fill="#1f77b4"/>
<rect x="1278.97" y="474.56" width="7.3" height="7.3" fill="#1f77b4"/>
<rect x="1305.1" y="472.15" width="7.3" height="7.3" fill="#1f77b4"/>
<rect x="1331.23" y="467.31" width="7.3" height="7.3" fill="#1f77b4"/>
<rect x="1357.37" y="487.62" width="7.3" height="7.3" fill="#1f77b4"/>
<rect x="1383.5" y="503.57" width="7.3" height="7.3" fill="#1f77b4"/>
<rect x="1409.63" y="524.6" width="7.3" height="7.3" fill="#1f77b4"/>
<rect x="1435.76" y="525.08" width="7.3" height="7.3" fill="#1f77b4"/>
<rect x="1461.89" y="549.97" width="7.3" height="7.3" fill="#1f77b4"/>
<polyline points="1230.36,500.21 1256.49,448.97 1282.62,476.76 1308.75,481.11 1334.88,474.59 1361.02,487.88 1387.15,502.62 1413.28,524.38 1439.41,529.45 1465.54,551.69" fill="none" stroke="#ff7f0e" stroke-width="3" stroke-linejoin="round" stroke-linecap="square"/>
<rect x="1226.71" y="496.56" width="7.3" height="7.3" fill="#ff7f0e"/>
<rect x="1252.84" y="445.32" width="7.3" height="7.3" fill="#ff7f0e"/>
<rect x="1278.97" y="473.11" width="7.3" height="7.3" fill="#ff7f0e"/>
<rect x="1305.1" y="477.46" width="7.3" height="7.3" fill="#ff7f0e"/>
<rect x="1331.23" y="470.94" width="7.3" height="7.3" fill="#ff7f0e"/>
<rect x="1357.37" y="484.23" width="7.3" height="7.3" fill="#ff7f0e"/>
<rect x="1383.5" y="498.98" width="7.3" height="7.3" fill="#ff7f0e"/>
<rect x="1409.63" y="520.73" width="7.3" height="7.3" fill="#ff7f0e"/>
<rect x="1435.76" y="525.8" width="7.3" height="7.3" fill="#ff7f0e"/>
<rect x="1461.89" y="548.04" width="7.3" height="7.3" fill="#ff7f0e"/>
</g>
<rect x="1218.6" y="442.2" width="258.7" height="241.7" fill="none" stroke="#505050" stroke-width="1.5"/>
<path d="M1215.1 683.9H1218.6M1215.1 635.56H1218.6M1215.1 587.22H1218.6M1215.1 538.88H1218.6M1215.1 490.54H1218.6M1215.1 442.2H1218.6M1230.36 683.9V687.4M1256.49 683.9V687.4M1282.62 683.9V687.4M1308.75 683.9V687.4M1334.88 683.9V687.4M1361.02 683.9V687.4M1387.15 683.9V687.4M1413.28 683.9V687.4M1439.41 683.9V687.4M1465.54 683.9V687.4" stroke="#505050" stroke-width="1.3" fill="none"/>
<text x="1188.2" y="689.75">0.0</text>
<text x="1188.2" y="641.41">0.2</text>
<text x="1188.2" y="593.07">0.4</text>
<text x="1188.2" y="544.73">0.6</text>
<text x="1188.2" y="496.39">0.8</text>
<text x="1188.2" y="448.05"> .0</text>
<path class="g1" d="M1194.35 448.05L1194.35 436.57L1193.42 436.57C1193.12 437.19 1192.6 437.82 1191.84 438.44C1191.24 438.96 1190.58 439.39 1189.84 439.72L1189.84 441.1C1190.33 440.9 1190.91 440.6 1191.51 440.21C1192.14 439.82 1192.6 439.42 1192.91 439.06L1192.91 448.05Z"/>
<path class="g1" d="M1231.95 703.1L1231.95 691.62L1231.01 691.62C1230.72 692.24 1230.19 692.87 1229.44 693.49C1228.83 694.01 1228.18 694.44 1227.44 694.77L1227.44 696.15C1227.93 695.95 1228.5 695.65 1229.11 695.26C1229.73 694.87 1230.19 694.47 1230.51 694.11L1230.51 703.1Z"/>
<text x="1251.93" y="703.1">2</text>
<text x="1278.06" y="703.1">3</text>
<text x="1304.19" y="703.1">4</text>
<text x="1330.32" y="703.1">5</text>
<text x="1356.46" y="703.1">6</text>
<text x="1382.59" y="703.1">7</text>
<text x="1408.72" y="703.1">8</text>
<text x="1434.85" y="703.1">9</text>
<text x="1456.42" y="703.1"> 0</text>
<path class="g1" d="M1462.57 703.1L1462.57 691.62L1461.64 691.62C1461.34 692.24 1460.82 692.87 1460.06 693.49C1459.45 694.01 1458.8 694.44 1458.06 694.77L1458.06 696.15C1458.55 695.95 1459.13 695.65 1459.73 695.26C1460.36 694.87 1460.82 694.47 1461.13 694.11L1461.13 703.1Z"/>
<text x="1347.95" y="722.2" text-anchor="middle">Index of Spectrum</text>
<text x="1347.95" y="436.1" text-anchor="middle">Reconstruction Result with ENN</text>
<text transform="translate(1181.1 563.05) rotate(-90)" text-anchor="middle">Normalized Intensity</text>
<rect x="1226.3" y="624.2" width="167.7" height="51.4" rx="3" fill="#fff" fill-opacity="0.8" stroke="#d6d6d6" stroke-width="1.1"/>
<path d="M1232.5 636.7H1265.2" stroke="#1f77b4" stroke-width="3" stroke-linecap="butt" stroke-dasharray="11.1 4.8"/>
<rect x="1245.4" y="633.05" width="7.3" height="7.3" fill="#1f77b4"/>
<text x="1278" y="642.5">Origin</text>
<path d="M1232.5 660.2H1265.2" stroke="#ff7f0e" stroke-width="3" stroke-linecap="square"/>
<rect x="1245.4" y="656.55" width="7.3" height="7.3" fill="#ff7f0e"/>
<text x="1278" y="666">Reconstruction</text>
<rect x="814.5" y="21.5" width="737" height="334" fill="none" stroke="#00ff00" stroke-width="3"/>
<rect x="48.5" y="401.5" width="738" height="333" fill="none" stroke="#0000ff" stroke-width="3"/>
<rect x="814.5" y="401.5" width="737" height="333" fill="none" stroke="#ff0000" stroke-width="3"/>
<path d="M351.5 152 L48.5 401.5 M351.5 152 L786.5 401.5" stroke="#0000ff" stroke-width="3" fill="none" shape-rendering="crispEdges"/>
<rect x="348" y="148.4" width="7" height="7" fill="#0000ff"/>
<path d="M480.6 165 L814.5 21.5 M480.6 165 L814.5 355.5" stroke="#00ff00" stroke-width="3" fill="none" shape-rendering="crispEdges"/>
<rect x="477.4" y="161.8" width="6.5" height="6.5" fill="#00ff00"/>
<rect x="483.8" y="278" width="7" height="7" fill="#ff0000"/>
</svg>
</body></html>
